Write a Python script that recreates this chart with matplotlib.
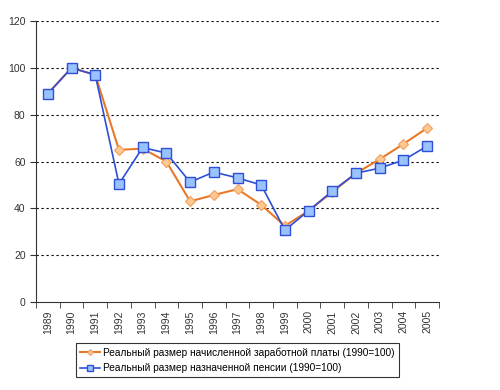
import numpy as np
import matplotlib.pyplot as plt

years = [str(y) for y in range(1989, 2006)]
wages = [89, 100, 97, 65, 65.5, 60, 43, 45.7, 48.2, 41.5, 32.5, 39, 47, 55, 61, 67.5, 74.3]
pension = [89, 100, 97, 50.4, 66, 63.6, 51.2, 55.5, 53, 50, 30.7, 39, 47.4, 55, 57.2, 60.6, 66.6]
labels = ["Реальный размер начисленной заработной платы (1990=100)",
          "Реальный размер назначенной пенсии (1990=100)"]

plt.rcParams['font.family'] = ['Liberation Sans', 'DejaVu Sans']
fig = plt.figure(figsize=(5, 3.9), dpi=100)
ax = fig.add_axes([0.072, 0.2256, 0.806, 0.7204])

x = np.arange(len(years))
ax.plot(x, wages, color='#E8792A', lw=1.5, marker='D', ms=5,
        mfc='#FFC890', mec='#F0A060', mew=0.8, label=labels[0], zorder=3)
ax.plot(x, pension, color='#2E4FD8', lw=1.2, marker='s', ms=7,
        mfc='#99C2FF', mec='#2E4FD8', mew=1, label=labels[1], zorder=4)

ax.set_xlim(-0.5, len(years) - 0.5)
ax.set_ylim(0, 120)
ax.set_yticks(range(0, 121, 20))
ax.set_xticks(x)
ax.set_xticklabels(years, rotation=90, fontsize=7.5, color='#333333')
ax.set_xticks(np.arange(-0.5, len(years), 1), minor=True)
ax.tick_params(axis='x', which='major', length=0, pad=6)
ax.tick_params(axis='x', which='minor', length=4, direction='out', color='#333333')
ax.tick_params(axis='y', labelsize=7.5, length=4, color='#333333', labelcolor='#333333')
for y in range(20, 121, 20):
    ax.axhline(y, color='black', lw=0.8, ls=(0, (2, 2.5)), zorder=1)
for s in ['top', 'right']:
    ax.spines[s].set_visible(False)
for s in ['left', 'bottom']:
    ax.spines[s].set_color('#333333')

leg = fig.legend(loc='lower left', bbox_to_anchor=(0.142, 0.02), fontsize=7.3,
                 frameon=True, fancybox=False, edgecolor='black', handlelength=2.0,
                 handletextpad=0.3, markerscale=0.6,
                 borderpad=0.4, labelspacing=0.5)
leg.get_frame().set_linewidth(0.8)

fig.savefig('out.png', dpi=100)
